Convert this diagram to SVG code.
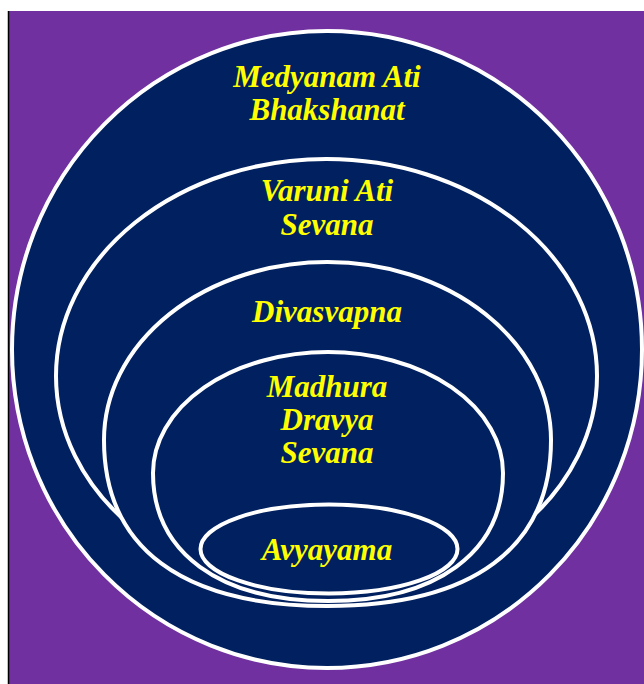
<svg xmlns="http://www.w3.org/2000/svg" width="644" height="684" viewBox="0 0 644 684">
<style>
.ring{fill:#002060;stroke:#FFFFFF;stroke-width:4}
.lbl{font-family:"Liberation Serif","Times New Roman",serif;font-weight:bold;font-style:italic;font-size:31px;fill:#FFFF00;text-anchor:middle}
</style>
<rect x="0" y="0" width="644" height="684" fill="#FFFFFF"/>
<rect x="8" y="11" width="636" height="673" fill="#7030A0"/>
<line x1="8.5" y1="11" x2="8.5" y2="684" stroke="#000000" stroke-width="1.5"/>
<g id="medyanam">
<ellipse class="ring" cx="327" cy="349.5" rx="315" ry="318.5"/>
<text class="lbl" x="327" y="87">Medyanam Ati</text>
<text class="lbl" x="327" y="120">Bhakshanat</text>
</g>
<g id="varuni">
<ellipse class="ring" cx="326.5" cy="376" rx="270.5" ry="217"/>
<text class="lbl" x="327" y="201">Varuni Ati</text>
<text class="lbl" x="327" y="235">Sevana</text>
</g>
<g id="divasvapna">
<path class="ring" d="M104,440 A223.5 178 0 0 1 551,440 C551,547.9 472.8,606 327.5,606 C182.2,606 104,547.9 104,440 Z"/>
<text class="lbl" x="327" y="322">Divasvapna</text>
</g>
<g id="madhura">
<path class="ring" d="M153,473 A175 121 0 0 1 503,473 C503,552.4 436.5,601 328,601 C219.5,601 153,552.4 153,473 Z"/>
<text class="lbl" x="327" y="397">Madhura</text>
<text class="lbl" x="327" y="430">Dravya</text>
<text class="lbl" x="327" y="463">Sevana</text>
</g>
<g id="avyayama">
<ellipse class="ring" cx="329" cy="549" rx="128.5" ry="44.5"/>
<text class="lbl" x="327" y="560">Avyayama</text>
</g>
<g id="connectors"/>
</svg>
